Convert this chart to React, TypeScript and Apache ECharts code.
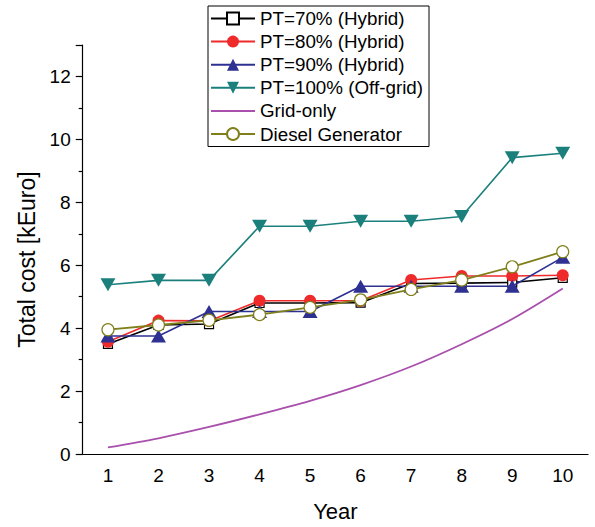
import React, { useEffect, useRef } from "react";
import * as echarts from "echarts";

const years = ["1", "2", "3", "4", "5", "6", "7", "8", "9", "10"];
const pt70 = [3.5, 4.1, 4.13, 4.8, 4.8, 4.81, 5.42, 5.43, 5.45, 5.6];
const pt80 = [3.57, 4.24, 4.23, 4.87, 4.87, 4.87, 5.53, 5.66, 5.66, 5.68];
const pt90 = [3.75, 3.75, 4.53, 4.53, 4.53, 5.33, 5.33, 5.33, 5.33, 6.25];
const pt100 = [5.38, 5.52, 5.52, 7.24, 7.24, 7.4, 7.4, 7.55, 9.42, 9.56];
const gridOnly = [0.21, 0.5, 0.86, 1.26, 1.69, 2.19, 2.78, 3.49, 4.29, 5.26];
const diesel = [3.95, 4.1, 4.25, 4.43, 4.66, 4.9, 5.23, 5.53, 5.95, 6.43];

const FONT = "'Liberation Sans', Arial, sans-serif";

export default function App() {
  const ref = useRef<HTMLDivElement>(null);
  useEffect(() => {
    if (!ref.current) return;
    const chart = echarts.init(ref.current, null, { renderer: "svg" });
    const downTri = "path://M0,0 L10,0 L5,9 Z";
    chart.setOption({
      animation: false,
      backgroundColor: "#fff",
      textStyle: { fontFamily: FONT },
      grid: { left: 82.7, right: 7, top: 45, bottom: 72, containLabel: false },
      legend: {
        orient: "vertical",
        left: 208,
        top: 6,
        padding: [2, 6, 2, 2],
        itemWidth: 44,
        itemHeight: 15,
        itemGap: 2.1,
        borderColor: "#000",
        borderWidth: 1,
        backgroundColor: "#fff",
        textStyle: { fontFamily: FONT, fontSize: 18.8, color: "#000", lineHeight: 21 },
        data: [
          "PT=70% (Hybrid)",
          "PT=80% (Hybrid)",
          "PT=90% (Hybrid)",
          "PT=100% (Off-grid)",
          { name: "Grid-only", itemStyle: { color: "rgba(0,0,0,0)", borderWidth: 0, opacity: 0 } },
          "Diesel Generator",
        ],
      },
      xAxis: {
        type: "category",
        data: years,
        boundaryGap: true,
        name: "Year",
        nameLocation: "middle",
        nameGap: 46,
        nameTextStyle: { fontFamily: FONT, fontSize: 22, color: "#000" },
        axisLine: { lineStyle: { color: "#000", width: 1.2 } },
        axisTick: { alignWithLabel: true, length: 7, inside: false, lineStyle: { color: "#000", width: 1.2 } },
        axisLabel: { fontFamily: FONT, fontSize: 19, color: "#000", margin: 12 },
        splitLine: { show: false },
      },
      yAxis: {
        type: "value",
        min: 0,
        max: 13,
        interval: 2,
        name: "Total cost [kEuro]",
        nameLocation: "middle",
        nameGap: 43,
        nameTextStyle: { fontFamily: FONT, fontSize: 23, color: "#000", padding: [0, 20, 0, 0] },
        axisLine: { show: true, lineStyle: { color: "#000", width: 1.2 } },
        axisTick: { show: true, length: 7, lineStyle: { color: "#000", width: 1.2 } },
        minorTick: { show: true, splitNumber: 2, length: 4, lineStyle: { color: "#000", width: 1.2 } },
        axisLabel: {
          fontFamily: FONT,
          fontSize: 19,
          color: "#000",
          margin: 12,
          formatter: (v: number) => (v % 2 === 0 ? String(v) : ""),
        },
        splitLine: { show: false },
        minorSplitLine: { show: false },
      },
      series: [
        {
          name: "PT=70% (Hybrid)",
          type: "line",
          data: pt70,
          symbol: "rect",
          symbolSize: 9,
          lineStyle: { color: "#000", width: 1.6 },
          itemStyle: { color: "#fff", borderColor: "#000", borderWidth: 1.2 },
          z: 2,
        },
        {
          name: "PT=80% (Hybrid)",
          type: "line",
          data: pt80,
          symbol: "circle",
          symbolSize: 12,
          lineStyle: { color: "#ee2a2a", width: 1.6 },
          itemStyle: { color: "#ee2a2a", borderColor: "#ee2a2a", borderWidth: 0 },
          z: 3,
        },
        {
          name: "PT=90% (Hybrid)",
          type: "line",
          data: pt90,
          symbol: "triangle",
          symbolSize: [15, 13],
          lineStyle: { color: "#2e3192", width: 1.6 },
          itemStyle: { color: "#2e3192", borderWidth: 0 },
          z: 4,
        },
        {
          name: "PT=100% (Off-grid)",
          type: "line",
          data: pt100,
          symbol: downTri,
          symbolSize: [15, 13],
          lineStyle: { color: "#1b807c", width: 1.6 },
          itemStyle: { color: "#1b807c", borderWidth: 0 },
          z: 5,
        },
        {
          name: "Grid-only",
          type: "line",
          data: gridOnly,
          symbol: "none",
          smooth: 0.3,
          lineStyle: { color: "#a94fac", width: 1.8 },
          itemStyle: { color: "#a94fac" },
          z: 6,
        },
        {
          name: "Diesel Generator",
          type: "line",
          data: diesel,
          symbol: "circle",
          symbolSize: 12,
          lineStyle: { color: "#7f7f1c", width: 1.8 },
          itemStyle: { color: "#fff", borderColor: "#7f7f1c", borderWidth: 1.2 },
          z: 7,
        },
      ],
    });
    return () => chart.dispose();
  }, []);
  return <div ref={ref} style={{ width: 595, height: 527, position: "absolute", left: 0, top: 0 }} />;
}
